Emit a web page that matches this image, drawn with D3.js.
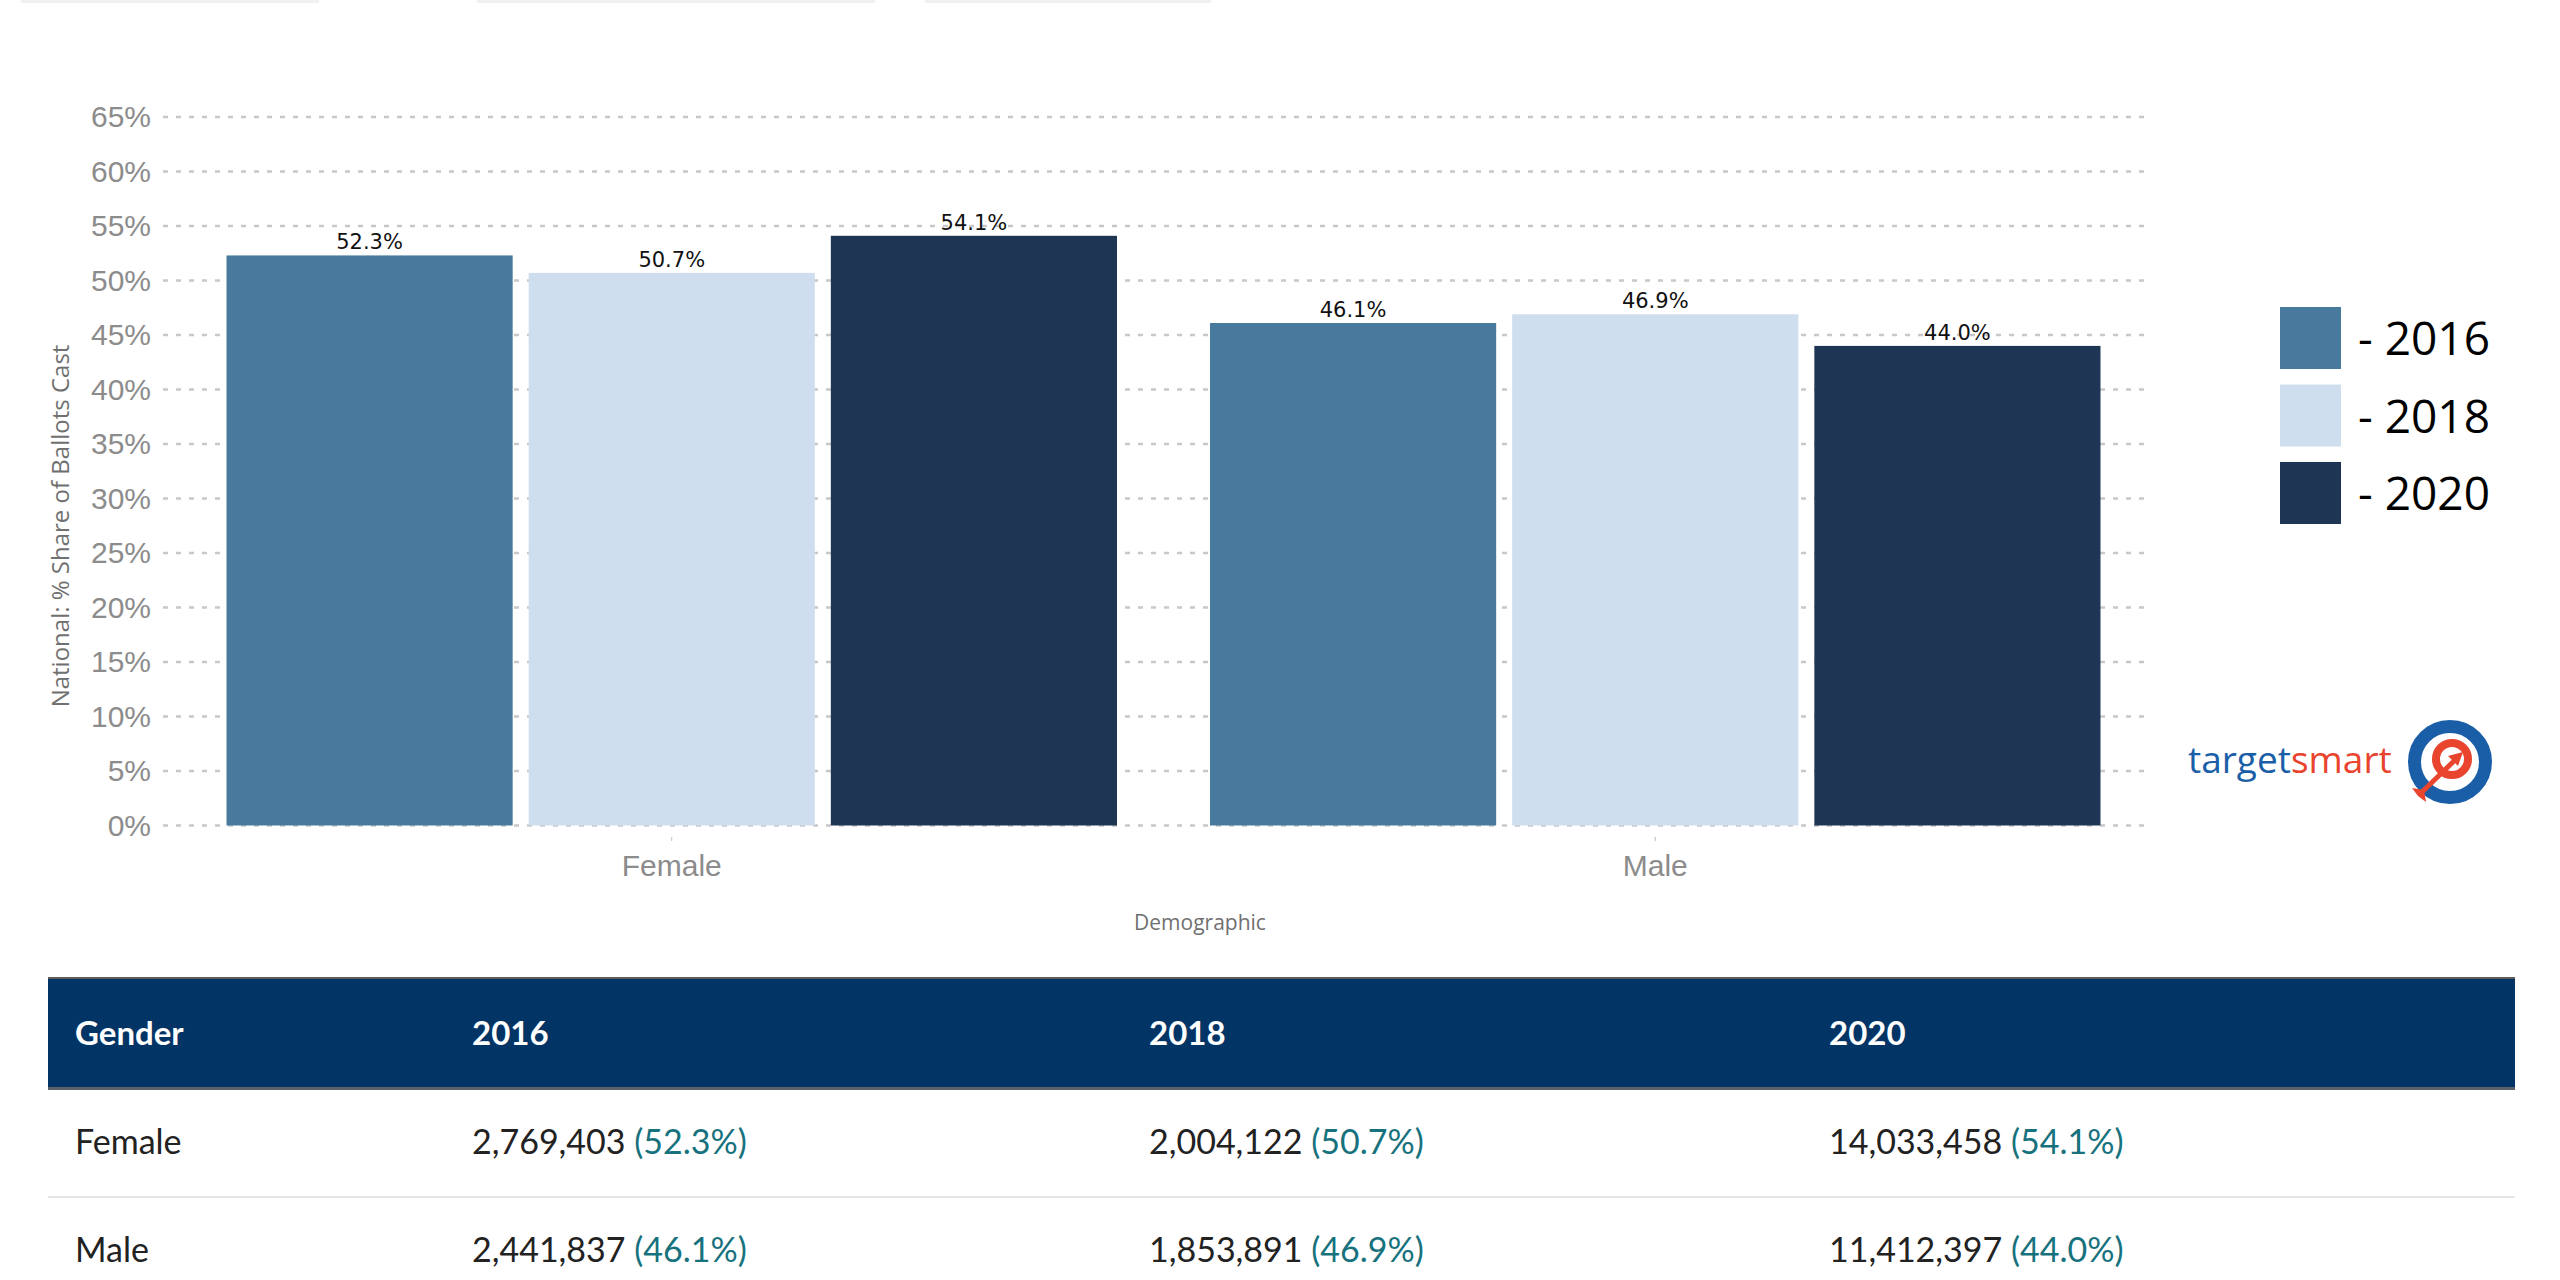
<!DOCTYPE html>
<html>
<head>
<meta charset="utf-8">
<script src="https://cdn.jsdelivr.net/npm/d3@7"></script>
<style>
  body { margin: 0; background: #fff; }
</style>
</head>
<body>
<svg id="svg"></svg>
<script>
// data
const genders = ["Female", "Male"];
const years = ["2016", "2018", "2020"];
const pct2016 = [52.3, 46.1];
const pct2018 = [50.7, 46.9];
const pct2020 = [54.1, 44.0];
const ballots2016 = [2769403, 2441837];
const ballots2018 = [2004122, 1853891];
const ballots2020 = [14033458, 11412397];
const yTicks = [0, 5, 10, 15, 20, 25, 30, 35, 40, 45, 50, 55, 60, 65];
const yearColors = ["#477a9c", "#cfdeee", "#1e3553"];

function sketch() {
    let svg = d3.select("#svg");
    let width = 2560;
    let height = 1280;

    svg.attr("width", width)
	.attr("height", height);

    let pcts = [pct2016, pct2018, pct2020];
    let ballots = [ballots2016, ballots2018, ballots2020];

    // faint edges of the dropdowns above the chart
    let dropEdges = [[21, 319], [477, 875], [925, 1211]];
    svg.selectAll("rect.drop")
	.data(dropEdges)
	.enter()
	.append("rect")
	.attr("class", "drop")
	.attr("x", (d) => d[0])
	.attr("y", 0)
	.attr("width", (d) => d[1] - d[0])
	.attr("height", 3)
	.attr("fill", "#eef0f2");

    let x0 = d3.scaleBand()
	.domain(genders)
	.range([180, 2147])
	.paddingInner(0.0946)
	.paddingOuter(0.0473);

    let x1 = d3.scaleBand()
	.domain(years)
	.range([0, x0.bandwidth()])
	.paddingInner(0.053);

    let y = d3.scaleLinear()
	.domain([0, 65])
	.range([825.5, 117]);

    let color = d3.scaleOrdinal()
	.domain(years)
	.range(yearColors);

    // dashed grid
    svg.append("g")
	.selectAll("line")
	.data(yTicks)
	.enter()
	.append("line")
	.attr("x1", 163)
	.attr("x2", 2147)
	.attr("y1", (d) => y(d))
	.attr("y2", (d) => y(d))
	.attr("stroke", "#c8c8c8")
	.attr("stroke-width", 2.5)
	.attr("stroke-dasharray", "5,8");

    // y axis labels
    let yAxis = d3.axisLeft(y)
	.tickValues(yTicks)
	.tickFormat((d) => d + "%")
	.tickSize(0)
	.tickPadding(0);

    let yg = svg.append("g")
	.attr("transform", "translate(151,0)")
	.call(yAxis);
    yg.select(".domain").remove();
    yg.selectAll("text")
	.attr("font-family", "Liberation Sans, Arial, sans-serif")
	.attr("font-size", 30)
	.attr("fill", "#8c8c8c");

    svg.append("text")
	.attr("transform", "translate(69,526) rotate(-90)")
	.attr("text-anchor", "middle")
	.attr("font-family", "Open Sans, sans-serif")
	.attr("font-size", 24)
	.attr("fill", "#707070")
	.text("National: % Share of Ballots Cast");

    // bars
    let rows = genders.map((g, i) => ({
	gender: g,
	values: years.map((yr, j) => ({ year: yr, value: pcts[j][i] }))
    }));

    let groups = svg.selectAll("g.group")
	.data(rows)
	.enter()
	.append("g")
	.attr("class", "group")
	.attr("transform", (d) => "translate(" + x0(d.gender) + ",0)");

    groups.selectAll("rect")
	.data((d) => d.values)
	.enter()
	.append("rect")
	.attr("x", (d) => x1(d.year))
	.attr("y", (d) => y(d.value))
	.attr("width", x1.bandwidth())
	.attr("height", (d) => y(0) - y(d.value))
	.attr("fill", (d) => color(d.year));

    groups.selectAll("text.val")
	.data((d) => d.values)
	.enter()
	.append("text")
	.attr("class", "val")
	.attr("x", (d) => x1(d.year) + x1.bandwidth() / 2)
	.attr("y", (d) => y(d.value) - 6)
	.attr("text-anchor", "middle")
	.attr("font-family", "DejaVu Sans, sans-serif")
	.attr("font-size", 21)
	.attr("fill", "#111")
	.text((d) => d.value.toFixed(1) + "%");

    // x axis
    let xAxis = d3.axisBottom(x0)
	.tickSize(4)
	.tickPadding(14);

    let xg = svg.append("g")
	.attr("transform", "translate(0,837)")
	.call(xAxis);
    xg.select(".domain").remove();
    xg.selectAll("line").attr("stroke", "#bbb");
    xg.selectAll("text")
	.attr("font-family", "Liberation Sans, Arial, sans-serif")
	.attr("font-size", 30)
	.attr("fill", "#8c8c8c");

    svg.append("text")
	.attr("x", 1200)
	.attr("y", 930)
	.attr("text-anchor", "middle")
	.attr("font-family", "Open Sans, sans-serif")
	.attr("font-size", 21)
	.attr("fill", "#707070")
	.text("Demographic");

    // legend
    let legend = svg.selectAll("g.legend")
	.data(years)
	.enter()
	.append("g")
	.attr("class", "legend")
	.attr("transform", (d, i) => "translate(2280," + (307 + i * 77.5) + ")");

    legend.append("rect")
	.attr("width", 61)
	.attr("height", 62)
	.attr("fill", (d) => color(d));

    legend.append("text")
	.attr("x", 78)
	.attr("y", 48)
	.attr("font-family", "Open Sans, sans-serif")
	.attr("font-size", 46)
	.attr("fill", "#000")
	.text((d) => "- " + d);

    // targetsmart logo
    let logo = svg.append("g");
    let lt = logo.append("text")
	.attr("x", 2188)
	.attr("y", 773)
	.attr("font-family", "Open Sans, sans-serif")
	.attr("font-size", 37);
    lt.append("tspan").attr("fill", "#1a5ea8").text("target");
    lt.append("tspan").attr("fill", "#e8442e").text("smart");

    let cx = 2450, cy = 762;
    logo.append("circle")
	.attr("cx", cx).attr("cy", cy).attr("r", 35.5)
	.attr("fill", "#fff")
	.attr("stroke", "#1a5ea8")
	.attr("stroke-width", 13);
    logo.append("circle")
	.attr("cx", cx + 2).attr("cy", cy - 3).attr("r", 16)
	.attr("fill", "#fff")
	.attr("stroke", "#e8442e")
	.attr("stroke-width", 8);
    logo.append("line")
	.attr("x1", cx - 30).attr("y1", cy + 32)
	.attr("x2", cx + 4).attr("y2", cy - 1)
	.attr("stroke", "#e8442e")
	.attr("stroke-width", 5);
    logo.append("path")
	.attr("d", "M" + (cx + 13) + "," + (cy - 10) +
	      " L" + (cx - 2) + "," + (cy - 6) +
	      " L" + (cx + 8) + "," + (cy + 4) + " Z")
	.attr("fill", "#e8442e");
    logo.append("path")
	.attr("d", "M" + (cx - 38) + "," + (cy + 26) +
	      " L" + (cx - 26) + "," + (cy + 28) +
	      " L" + (cx - 24) + "," + (cy + 40) +
	      " L" + (cx - 32) + "," + (cy + 34) + " Z")
	.attr("fill", "#e8442e");

    // table under the chart
    let tableLeft = 48, tableRight = 2515;
    let colX = [75, 472, 1149, 1829];
    let tableFont = "Lato, sans-serif";

    svg.append("rect")
	.attr("x", tableLeft)
	.attr("y", 978)
	.attr("width", tableRight - tableLeft)
	.attr("height", 112)
	.attr("fill", "#033466");
    svg.append("rect")
	.attr("x", tableLeft)
	.attr("y", 977)
	.attr("width", tableRight - tableLeft)
	.attr("height", 2)
	.attr("fill", "#5c5c5c");
    svg.append("rect")
	.attr("x", tableLeft)
	.attr("y", 1087)
	.attr("width", tableRight - tableLeft)
	.attr("height", 3)
	.attr("fill", "#5c6068");

    svg.selectAll("text.head")
	.data(["Gender"].concat(years))
	.enter()
	.append("text")
	.attr("class", "head")
	.attr("x", (d, i) => colX[i])
	.attr("y", 1045)
	.attr("font-family", tableFont)
	.attr("font-weight", "bold")
	.attr("font-size", 33)
	.attr("fill", "#fff")
	.text((d) => d);

    let rowY = [1154, 1262];
    svg.append("rect")
	.attr("x", tableLeft)
	.attr("y", 1196)
	.attr("width", tableRight - tableLeft)
	.attr("height", 2)
	.attr("fill", "#e6e6e6");

    let fmt = d3.format(",");
    genders.forEach((g, i) => {
	svg.append("text")
	    .attr("x", colX[0])
	    .attr("y", rowY[i])
	    .attr("font-family", tableFont)
	    .attr("font-size", 34)
	    .attr("fill", "#222")
	    .text(g);
	years.forEach((yr, j) => {
	    let t = svg.append("text")
		.attr("x", colX[j + 1])
		.attr("y", rowY[i])
		.attr("font-family", tableFont)
		.attr("font-size", 34)
		.attr("fill", "#222");
	    t.append("tspan").text(fmt(ballots[j][i]) + " ");
	    t.append("tspan")
		.attr("fill", "#17727e")
		.text("(" + pcts[j][i].toFixed(1) + "%)");
	});
    });
}

sketch();
</script>
</body>
</html>
